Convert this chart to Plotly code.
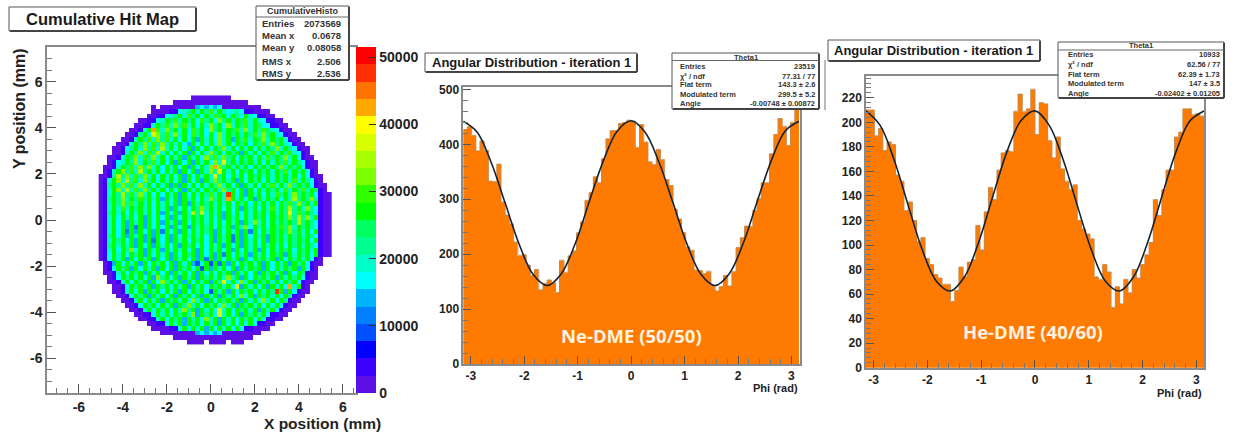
import numpy as np
import plotly.graph_objects as go

# ---------- data ----------
# Hit map: one string per row (top to bottom, 0.2 mm cells, first column centred at x=-5.0).
# '.' = empty, otherwise the colour band (0..9, a..j) of the cell.
hit_rows = [
    "."*21 + "000000000",
    "."*17 + "00000000000000000",
    "."*12 + "0." + "00000000" + "565656" + "000000000",
    "."*12 + "000011" + "678a7a8b7a86786" + "110000",
    "."*11 + "0011" + "678a7b8a6a7b9a7a86a76" + "1100",
    "."*9 + "0011" + "67a8b7a8a6b8a6c8a7a9b7a76" + "1100",
    "."*8 + "0011" + "7a8b7c8b7a6a7c8a6c7a8b7a966" + "1100",
    "."*7 + "001" + "7agb7c8a7a6b8a6c8a7a9b7c7a8b976" + "100",
    "."*6 + "001" + "8a7ec8b7c7a6b8a6a6c7a8a7a8b7c8a76" + "100",
    "."*5 + "001" + "7a8b7c8b7a6a6a5a7a6c7a5a8b7a9c7a8a6" + "100",
    "."*4 + "001" + "7a8c7b8c7a7a65a6a7a7c7a6a8a6a8b7c8a76" + "100",
    "."*3 + "001" + "68a7c8b7d7a6a6a5a6a6a8c7a6a7a6a7a8c7a86" + "100",
    "."*3 + "001" + "7a8c7b8d7a6a7a5a6a7c8a6a8a5a7a6a8b7a8b76" + "10",
    "."*2 + "001" + "7a9c7b8c7a6a7a5a7a6c8b7c8a6a8a6a7b8a8c7a6" + "100",
    "."*2 + "01" + "67a8c7a8b7a6a5a6a5a7a6c7e8a7a8a7a6a7a8b7a86" + "100",
    "."*1 + "001" + "7a8b7c8c7a6a7a6a5a6a7cgc8a7a7a6a8a7a8c7a8a6" + "100",
    "."*1 + "01" + "7ac8b7d8a7a6a7a5a6a5a7c8ea7a6a8a6a8a7a8b7a8a6" + "10",
    "001" + "8d8c7b8c7a6a7a6a5a6a7a7e8a6a7a6a8a7a7a8a7a6a6" + "100",
    "01" + "7ac7d8b7c8a6a7a6a5a6a5a7c8a7a5a6a8a6a7a8a7b7a86" + "10",
    "01" + "8a8c8b7c7a6a7a5a5a6a6a7a8c7a6a5a7a6a8b7a7c8a8a6" + "100",
    "01" + "7ac7d7b8c8a7a6a6a5a7a6a8a7c8a6a5a6a7a8a6b7a8b7a9" + "10",
    "01" + "7a8d8b7c7a6a6a7a5a6a7a8b7a7ia6a5a7a6a7b8a7c8a8a6" + "100",
    "01" + "8a8c7a8b8a7a5a6a5a7a6a7c8a7ga7a6a5a7a8a6a7d8a8c8" + "100",
    "01" + "7a8c8b7a7a6a7a6a5a5a7a8a7a7a6a8a6a7a7a6a8b8c8a7a" + "100",
    "01" + "7a7b7a8a7a6a7a5a6a6a8c8a7a6a6a5a7a6a7b7a8d8a7c86" + "100",
    "01" + "8a7a6a7a7a6a5a6a5a7d8d7a7a5a6a6a7a8a7a7a8e8b8a86" + "100",
    "01" + "7a6a7a6a5a6a6a5a6a7a8a7a6a5a7a6a7a8a6a8a8c8d8c7a" + "100",
    "01" + "7a6a5a7a5a6a5a7a5a6a8a7a6a6a7a5a7c7a6a7a8a8d8a86" + "100",
    "01" + "7a6a5a4a5a6a6a5a6a5a7a8a6a7a5a7c6a7a6a8b8c7a8a86" + "100",
    "01" + "7a6a4a5a6a5a4a6a5a6a7a8a5a6a7a5a4a6a7a8a8c8a7a6a" + "100",
    "01" + "8a6a5a7a5a5a6a5a6a7a7a6a5a7a4a5a6a7a5a8a7a8a7a86" + "100",
    "01" + "7a8a6a5a5a4a6a5a7a6a8a6a5a7a4a5a7a6a5a8a7a8a8a6a" + "100",
    "01" + "8a7a7a5a6a5a7a6a5a8a6a6a7a5a6a5a7a6a7a7a6a8a7a86" + "100",
    "01" + "7a6a8c6a5a7a5a6a7a6a5a6a7a6a5a6a7a5a6a7a8a6a8a7a" + "100",
    "01" + "6a7a6a8a5a6a7a5a6a8a5a6a5a4a6a7a5a7a6a8a5a7a8a6a" + "100",
    "01" + "6a7a5a6a8a5a6a5a7a6a5a4a5a6a7a5a6a8a7a5a6a8a7a6" + "10",
    "."*1 + "01" + "5a6a7a5a6a8a6a5a7a536a3a4a5a6a8a7a5a6a7a5a8a6"[:45] + "100",
    "."*1 + "01" + "6a8a5a6a7a5a6a5a8a6a3a5a7a6a5a7a8a5a6a7a8a5a6" + "10",
    "."*1 + "001" + "7a6a8a5a7a6a5a7a6a5a6a6a8a5a7a6a5a8a7a5a6a8" + "100",
    "."*2 + "01" + "6a8a7a6a5c8a6a5a7a5a8a7a7c7a5a6a8a7a5a7a8a6" + "100",
    "."*2 + "001" + "7a6a8a5a6c8a7a5a6a7a5a8e7a6c7a5a8a7a6a8a6" + "100",
    "."*3 + "001" + "6a8a7a5a8a6a7a5a7a6a8a7a6e5a7a6a5a7a6g7a" + "10",
    "."*3 + "001" + "7a6a5a8a6a7a5a6a8a63a7a5a6a8a6a7a8ia5a6" + "100",
    "."*4 + "001" + "6a8a5a7a6a5a8a6a5a7a5a7a6c6a5a8a7a6a8" + "100",
    "."*5 + "001" + "7a6a7a5a8a7a6c7a5a6a8a7a5a7a6c7a6a8" + "100",
    "."*6 + "001" + "6a8a6a7a5a8c7a6a8a6c7a5a8a7a6a7a6" + "100",
    "."*7 + "001" + "7a6a8a6a7c8a5a7a6e7a6a8a7a5a7a6" + "100",
    "."*8 + "0011" + "6a7a6a8a7c5a8a6e7a6a5a8a7a6" + "1100",
    "."*9 + "0011" + "7a6a8a5a7a6c7a5a7a6a8a6a7" + "1100",
    "."*11 + "0011" + "6a7a5a8a6a7a5a7a6a6a6" + "1100",
    "."*12 + "000011" + "6a6a7a5a6a7a6a6" + "110000",
    "."*14 + "00000000" + "565656" + "000000000",
    "."*17 + "000000000000000000",
    "."*20 + "0000.0000.000",
]
band_alphabet = "0123456789abcdefghij"
band_colors = ["#5c10e6", "#3c00ff", "#0000ff", "#0050ff", "#0080ff", "#00b4ff", "#00ffff",
               "#00ffc8", "#00ff90", "#00ff60", "#00ff00", "#30ff00", "#7cff00", "#a8ff00",
               "#d8ff00", "#ffff00", "#ffa800", "#ff7400", "#ff3000", "#ff0000"]
z_max = 51500
colorbar_ticks = [0, 10000, 20000, 30000, 40000, 50000]

ne_counts = [427, 432, 416, 388, 406, 389, 333, 332, 364, 295, 271, 255, 222, 198, 199, 180, 161, 172, 135, 147,
             153, 148, 130, 189, 167, 197, 206, 239, 259, 298, 312, 341, 330, 374, 410, 425, 425, 438, 440, 444,
             442, 394, 436, 404, 368, 363, 391, 372, 336, 325, 282, 264, 239, 213, 207, 171, 170, 165, 169, 143,
             133, 141, 161, 142, 168, 212, 230, 251, 250, 280, 301, 330, 330, 383, 418, 447, 433, 398, 440, 465]
he_counts = [210, 210, 189, 195, 177, 184, 182, 157, 152, 128, 135, 120, 103, 106, 89, 84, 76, 73, 68, 68,
             54, 63, 82, 74, 86, 88, 116, 96, 127, 147, 137, 161, 175, 177, 176, 209, 223, 209, 211, 227,
             190, 216, 215, 185, 171, 188, 162, 152, 145, 149, 120, 113, 109, 105, 74, 72, 84, 78, 49, 66,
             52, 72, 61, 80, 73, 84, 92, 102, 137, 124, 145, 161, 161, 188, 192, 211, 211, 206, 207, 205]
fit_phi = [-3.1416, -2.8798, -2.618, -2.3562, -2.0944, -1.8326, -1.5708, -1.309, -1.0472, -0.7854, -0.5236, -0.2618,
           0.0, 0.2618, 0.5236, 0.7854, 1.0472, 1.309, 1.5708, 1.8326, 2.0944, 2.3562, 2.618, 2.8798, 3.1416]
ne_fit = [442, 422, 367, 293, 218, 163, 143, 164, 219, 295, 369, 424, 443,
          422, 367, 293, 218, 163, 143, 164, 219, 295, 369, 424, 442]
he_fit = [209.3, 197.7, 169.5, 132.3, 96.1, 70.5, 62.5, 74.1, 102.2, 139.4, 175.7, 201.2, 209.3,
          197.7, 169.5, 132.3, 96.1, 70.5, 62.5, 74.1, 102.2, 139.4, 175.7, 201.2, 209.3]

map_stats_title = "CumulativeHisto"
map_stats = [("Entries", "2073569"), ("Mean x", "0.0678"), ("Mean y", "0.08058"), ("RMS x", "2.506"), ("RMS y", "2.536")]
ne_stats = [("Entries", "23519"), ("χ² / ndf", "77.31 / 77"), ("Flat term", "143.3 ± 2.6"),
            ("Modulated term", "299.5 ± 5.2"), ("Angle", "-0.00748 ± 0.00872")]
he_stats = [("Entries", "10933"), ("χ² / ndf", "62.56 / 77"), ("Flat term", "62.39 ± 1.73"),
            ("Modulated term", "147 ± 3.5"), ("Angle", "-0.02402 ± 0.01205")]

# ---------- helpers ----------
W, H = 1240, 434
FONT = "Liberation Sans"
px = lambda v: v / W
py = lambda v: 1 - v / H

shapes, annotations = [], []

def label(x, y, text, size, anchor="center", color="#222222", bold=True, family=FONT, angle=0):
    annotations.append(dict(xref="paper", yref="paper", x=px(x), y=py(y), text=f"<b>{text}</b>" if bold else text,
                            showarrow=False, xanchor=anchor, yanchor="middle", textangle=angle,
                            font=dict(family=family, size=size, color=color)))

def box(x0, y0, x1, y1, edge="#555555", shadow=2):
    shapes.append(dict(type="rect", xref="paper", yref="paper", x0=px(x0), x1=px(x1), y0=py(y0), y1=py(y1),
                       fillcolor="white", line=dict(color=edge, width=1), layer="above"))
    for a, b, c, d in [(x0 + 1, y1, x1, y1), (x1, y0 + 1, x1, y1)]:
        shapes.append(dict(type="line", xref="paper", yref="paper", x0=px(a), x1=px(c), y0=py(b), y1=py(d),
                           line=dict(color="#444444", width=shadow), layer="above"))

def stats(x0, y0, x1, y1, title, rows, title_y, rule_y, row_y, lx, rx, size, title_size):
    box(x0, y0, x1, y1)
    shapes.append(dict(type="line", xref="paper", yref="paper", x0=px(x0), x1=px(x1), y0=py(rule_y), y1=py(rule_y),
                       line=dict(color="#666666", width=1), layer="above"))
    label((x0 + x1) / 2, title_y, title, title_size, color="#333333")
    for (name, value), yy in zip(rows, row_y):
        label(lx, yy, name, size, "left", "#333333")
        label(rx, yy, value, size, "right", "#333333")

# ---------- traces ----------
band_count = len(band_alphabet)
band_size = z_max / band_count
z = []
for row in hit_rows:
    row = row.ljust(53, ".")
    z.append([None if c == "." else (band_alphabet.index(c) + 0.5) * band_size for c in row[:53]])
x_cells = -5.0 + 0.2 * np.arange(53)
y_cells = 5.3 - 0.2 * np.arange(len(hit_rows))

scale = []
for i, c in enumerate(band_colors):
    scale += [[i / band_count, c], [(i + 1) / band_count, c]]

fig = go.Figure()
fig.add_trace(go.Heatmap(
    z=z, x=x_cells, y=y_cells, xaxis="x", yaxis="y", zmin=0, zmax=z_max, colorscale=scale, hoverongaps=False,
    colorbar=dict(thickness=20, thicknessmode="pixels", len=346, lenmode="pixels", x=px(356), xanchor="left",
                  y=py(393), yanchor="bottom", xpad=0, ypad=0, outlinewidth=0, tickvals=colorbar_ticks,
                  ticktext=[f"<b>{t}</b>" for t in colorbar_ticks], ticks="inside", ticklen=7, tickcolor="#333333",
                  tickfont=dict(family=FONT, size=14, color="#222222"))))

edges = np.linspace(-np.pi, np.pi, 81)
centers = (edges[:-1] + edges[1:]) / 2
for counts, fit, xa, ya in [(ne_counts, ne_fit, "x2", "y2"), (he_counts, he_fit, "x3", "y3")]:
    fig.add_trace(go.Bar(x=centers, y=counts, width=2 * np.pi / 80, marker=dict(color="#ff7a00", line=dict(width=0)),
                         xaxis=xa, yaxis=ya))
    fig.add_trace(go.Scatter(x=edges, y=list(counts) + [counts[-1]], mode="lines", line=dict(shape="hv", color="#c58a4a", width=1),
                             xaxis=xa, yaxis=ya))
    fig.add_trace(go.Scatter(x=fit_phi, y=fit, mode="lines", line=dict(shape="spline", smoothing=1.0, color="#152232", width=1.6),
                             xaxis=xa, yaxis=ya))

# ---------- axes ----------
AX = "#8a8a8a"
def axis(domain, rng, vals, size, minor, anchor, ticklen=9, **kw):
    return dict(domain=domain, range=rng, anchor=anchor, tickmode="array", tickvals=vals,
                ticktext=[f"<b>{v}</b>" for v in vals], ticks="inside", ticklen=ticklen, tickcolor="#555555", tickwidth=1,
                tickfont=dict(family=FONT, size=size, color="#222222"), showline=True, linecolor=AX, linewidth=1.5,
                mirror=True, showgrid=False, zeroline=False,
                minor=dict(ticks="inside", ticklen=5, tickcolor="#777777", tickwidth=1, dtick=minor, showgrid=False), **kw)

fig.update_layout(
    width=W, height=H, autosize=False, margin=dict(l=0, r=0, t=0, b=0, autoexpand=False),
    paper_bgcolor="white", plot_bgcolor="white", showlegend=False, bargap=0,
    xaxis=axis([px(47), px(356)], [-7.45, 6.6], [-6, -4, -2, 0, 2, 4, 6], 14, 0.5, "y"),
    yaxis=axis([py(393), py(47)], [-7.5, 7.5], [-6, -4, -2, 0, 2, 4, 6], 14, 0.5, "x"),
    xaxis2=axis([px(463.3), px(800)], [-3.14, 3.16], [-3, -2, -1, 0, 1, 2, 3], 12, 0.2, "y2", ticklen=8),
    yaxis2=axis([py(364), py(86.7)], [0, 505], [0, 100, 200, 300, 400, 500], 12, 20, "x2", ticklen=8),
    xaxis3=axis([px(866), px(1204.3)], [-3.14, 3.146], [-3, -2, -1, 0, 1, 2, 3], 12, 0.2, "y3", ticklen=8),
    yaxis3=axis([py(367.7), py(75.7)], [0, 238], [0, 20, 40, 60, 80, 100, 120, 140, 160, 180, 200, 220], 12, 4, "x3", ticklen=8),
)

# ---------- titles, stat boxes and labels ----------
box(9, 7, 196, 31)
label(102, 19, "Cumulative Hit Map", 16.5, color="#1a1a1a")
stats(256, 6, 349, 80, map_stats_title, map_stats, 11, 17, [23, 36, 48, 61, 73], 260, 343, 9.5, 9)
label(322, 423, "X position (mm)", 15.5)
label(20, 109, "Y position (mm)", 16, angle=-90)

box(425, 53, 637, 72)
label(531, 63, "Angular Distribution - iteration 1", 13, color="#1a1a1a")
stats(672, 53, 819, 109, "Theta1", ne_stats, 57, 60.5, [66.7, 76, 84.7, 94, 104], 678, 817, 7.5, 7.5)
label(800, 388, "Phi (rad)", 11, "right")
label(631, 335, "Ne-DME (50/50)", 18.5, color="#fff3e2", family="Open Sans")

box(828, 40, 1040, 61)
label(934, 51, "Angular Distribution - iteration 1", 13, color="#1a1a1a")
stats(1058, 42, 1224, 98, "Theta1", he_stats, 46, 50, [55, 65, 74, 83, 93], 1066, 1222, 7.5, 7.5)
label(1204, 393, "Phi (rad)", 11, "right")
label(1033, 331, "He-DME (40/60)", 18.5, color="#fff3e2", family="Open Sans")

shapes.append(dict(type="line", xref="paper", yref="paper", x0=px(825), x1=px(825), y0=py(60), y1=py(110),
                   line=dict(color="#777777", width=1)))

fig.update_layout(shapes=shapes, annotations=annotations)
fig.write_html("out.html", config={"displayModeBar": False}, post_script="document.body.style.margin='0';")
